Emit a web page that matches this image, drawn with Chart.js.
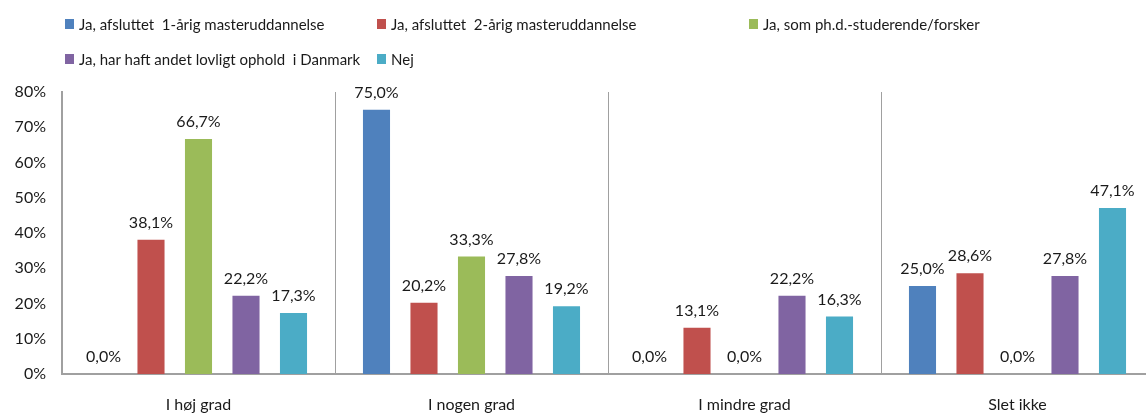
<!DOCTYPE html>
<html>
<head>
<meta charset="utf-8">
<script src="https://cdn.jsdelivr.net/npm/chart.js@4/dist/chart.umd.min.js"></script>
<style>
    body { margin: 0; background: #fff; overflow: hidden; }
    #wrap { position: relative; width: 1146px; height: 415px; overflow: hidden; }
    #chart { position: absolute; left: 0; top: 0; }
    #legend {
        position: absolute; left: 65px; top: 6px;
        display: grid; grid-template-columns: 312px 372px auto;
        grid-auto-rows: 35px;
        font-family: Lato, sans-serif; font-size: 15px; color: #1a1a1a;
    }
    .item { display: flex; align-items: center; white-space: pre; }
    .swatch { width: 9px; height: 10px; margin-right: 5px; flex: none; }
</style>
</head>
<body>
<div id="wrap">
    <canvas id="chart" width="1160" height="415"></canvas>
    <div id="legend"></div>
</div>
<script>
const categories = ['I høj grad', 'I nogen grad', 'I mindre grad', 'Slet ikke'];
const seriesNames = [
    'Ja, afsluttet  1-årig masteruddannelse',
    'Ja, afsluttet  2-årig masteruddannelse',
    'Ja, som ph.d.-studerende/forsker',
    'Ja, har haft andet lovligt ophold  i Danmark',
    'Nej'
];
const oneYear = [0.0, 75.0, 0.0, 25.0];
const twoYear = [38.1, 20.2, 13.1, 28.6];
const phd = [66.7, 33.3, 0.0, 0.0];
const otherStay = [22.2, 27.8, 22.2, 27.8];
const no = [17.3, 19.2, 16.3, 47.1];
const colors = ['#4F81BD', '#C0504D', '#9BBB59', '#8064A2', '#4BACC6'];
const yTicks = [0, 10, 20, 30, 40, 50, 60, 70, 80];

const seriesValues = [oneYear, twoYear, phd, otherStay, no];
const fontFamily = 'Lato, sans-serif';

// legend laid out as a two-row grid
const legendEl = document.getElementById('legend');
seriesNames.forEach((name, i) => {
    const item = document.createElement('div');
    item.className = 'item';
    item.innerHTML = '<span class="swatch" style="background:' + colors[i] + '"></span>';
    item.appendChild(document.createTextNode(name));
    legendEl.appendChild(item);
});

const fmt = (v) => v.toFixed(1).replace('.', ',') + '%';

// value labels above each bar
const barLabels = {
    id: 'barLabels',
    afterDatasetsDraw(chart) {
        const ctx = chart.ctx;
        ctx.save();
        ctx.font = '16px ' + fontFamily;
        ctx.fillStyle = '#1a1a1a';
        ctx.textAlign = 'center';
        ctx.textBaseline = 'bottom';
        chart.data.datasets.forEach((ds, i) => {
            chart.getDatasetMeta(i).data.forEach((bar, j) => {
                ctx.fillText(fmt(ds.data[j]), bar.x, bar.y - 9);
            });
        });
        ctx.restore();
    }
};

const datasets = seriesNames.map((name, i) => ({
    label: name,
    data: seriesValues[i],
    backgroundColor: colors[i],
    borderWidth: 0,
    categoryPercentage: 0.87,
    barPercentage: 0.57
}));

new Chart(document.getElementById('chart'), {
    type: 'bar',
    data: { labels: categories, datasets: datasets },
    options: {
        responsive: false,
        animation: false,
        layout: { padding: { top: 92, right: 6, left: 0, bottom: 0 } },
        plugins: {
            legend: { display: false },
            tooltip: { enabled: false }
        },
        scales: {
            x: {
                offset: true,
                afterFit: (scale) => { scale.height = 41; },
                grid: { display: true, offset: true, color: '#A0A0A0', lineWidth: 1, drawTicks: false },
                border: { display: true, color: '#A0A0A0', width: 2 },
                ticks: { font: { family: fontFamily, size: 16 }, color: '#1a1a1a', padding: 21 }
            },
            y: {
                min: 0,
                max: 80,
                afterBuildTicks: (axis) => { axis.ticks = yTicks.map(v => ({ value: v })); },
                afterFit: (scale) => { scale.width = 62; },
                grid: { display: false, drawTicks: false },
                border: { display: true, color: '#A0A0A0', width: 2 },
                ticks: {
                    font: { family: fontFamily, size: 16 },
                    color: '#1a1a1a',
                    padding: 16,
                    callback: (v) => v + '%'
                }
            }
        }
    },
    plugins: [barLabels]
});
</script>
</body>
</html>
